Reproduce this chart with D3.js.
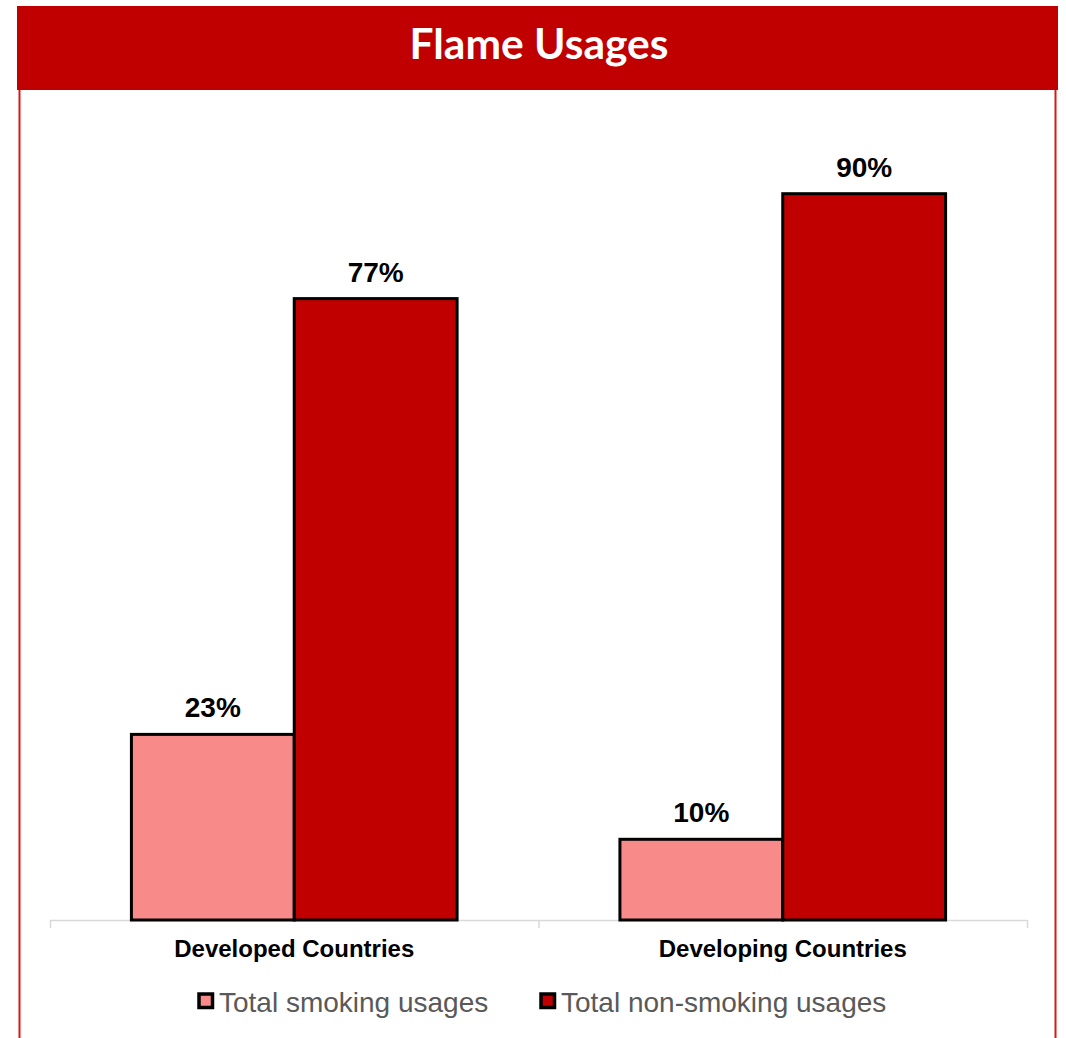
<!DOCTYPE html>
<html><head><meta charset="utf-8">
<script src="https://cdn.jsdelivr.net/npm/d3@7"></script>
<style>html,body{margin:0;padding:0;background:#fff;}</style>
</head><body>
<svg id="chart" width="1066" height="1038"></svg>
<script>
const title = "Flame Usages";
const categories = ["Developed Countries", "Developing Countries"];
const seriesNames = ["Total smoking usages", "Total non-smoking usages"];
const smoking = [23, 10];
const nonSmoking = [77, 90];
const seriesColors = ["#F88A8A", "#C00000"];

const svg = d3.select("#chart");
const W = 1066, H = 1038;

// header bar
svg.append("rect").attr("x", 17).attr("y", 6).attr("width", 1041).attr("height", 84).attr("fill", "#C00000");
svg.append("text").attr("x", 539).attr("y", 59).attr("text-anchor", "middle")
  .attr("font-family", "Lato").attr("font-weight", 700).attr("font-size", 42.5).attr("fill", "#fff").text(title);
// side borders
svg.append("line").attr("x1", 19.5).attr("x2", 19.5).attr("y1", 90).attr("y2", H).attr("stroke", "#D81818").attr("stroke-width", 2);
svg.append("line").attr("x1", 1055.5).attr("x2", 1055.5).attr("y1", 90).attr("y2", H).attr("stroke", "#D81818").attr("stroke-width", 2);

const plot = {left: 50, right: 1027, top: 113, bottom: 920};
const x0 = d3.scaleBand().domain(categories).range([plot.left, plot.right]).paddingInner(0).paddingOuter(0);
const x1 = d3.scaleBand().domain(seriesNames).range([0, x0.bandwidth()]).paddingInner(0).paddingOuter(0.5);
const y = d3.scaleLinear().domain([0, 100]).range([plot.bottom, plot.top]);

const data = categories.map((c, i) => ({cat: c, vals: [smoking[i], nonSmoking[i]]}));

// axis
const axis = svg.append("g").attr("transform", `translate(0,${plot.bottom})`)
  .call(d3.axisBottom(x0).tickSize(0).tickFormat(""));
axis.select(".domain").remove();
svg.append("line").attr("x1", plot.left).attr("x2", plot.right).attr("y1", plot.bottom + 0.5).attr("y2", plot.bottom + 0.5)
  .attr("stroke", "#D9D9D9").attr("stroke-width", 1.5);
const tickPos = [plot.left, ...categories.map(c => x0(c) + x0.bandwidth())];
svg.selectAll(".tk").data(tickPos).join("line").attr("x1", d => d + 0.5).attr("x2", d => d + 0.5)
  .attr("y1", plot.bottom).attr("y2", plot.bottom + 8).attr("stroke", "#D9D9D9").attr("stroke-width", 1.5);

// bars
const groups = svg.selectAll(".grp").data(data).join("g").attr("transform", d => `translate(${x0(d.cat)},0)`);
groups.selectAll("rect").data(d => d.vals.map((v, j) => ({v, j}))).join("rect")
  .attr("x", d => x1(seriesNames[d.j]))
  .attr("y", d => y(d.v))
  .attr("width", x1.bandwidth())
  .attr("height", d => y(0) - y(d.v))
  .attr("fill", d => seriesColors[d.j])
  .attr("stroke", "#000").attr("stroke-width", 3);
groups.selectAll("text").data(d => d.vals.map((v, j) => ({v, j}))).join("text")
  .attr("x", d => x1(seriesNames[d.j]) + x1.bandwidth() / 2)
  .attr("y", d => y(d.v) - 17)
  .attr("text-anchor", "middle")
  .attr("font-family", "Arial, Liberation Sans, sans-serif").attr("font-weight", 700).attr("font-size", 28)
  .attr("fill", "#000").text(d => d.v + "%");

// category labels
svg.selectAll(".cat").data(categories).join("text")
  .attr("x", d => x0(d) + x0.bandwidth() / 2).attr("y", 957)
  .attr("text-anchor", "middle").attr("font-family", "Arial, Liberation Sans, sans-serif")
  .attr("font-weight", 700).attr("font-size", 24).attr("fill", "#000").text(d => d);

// legend
const legX = [199, 541];
const leg = svg.selectAll(".leg").data(seriesNames).join("g").attr("transform", (d, i) => `translate(${legX[i]},1002)`);
leg.append("rect").attr("x", 0).attr("y", -8).attr("width", 13.5).attr("height", 13.5)
  .attr("fill", (d, i) => seriesColors[i]).attr("stroke", "#000").attr("stroke-width", 3.5);
leg.append("text").attr("x", 20).attr("y", 10).attr("font-family", "Arial, Liberation Sans, sans-serif")
  .attr("font-size", 28).attr("fill", "#595959").text(d => d);
</script>
</body></html>
